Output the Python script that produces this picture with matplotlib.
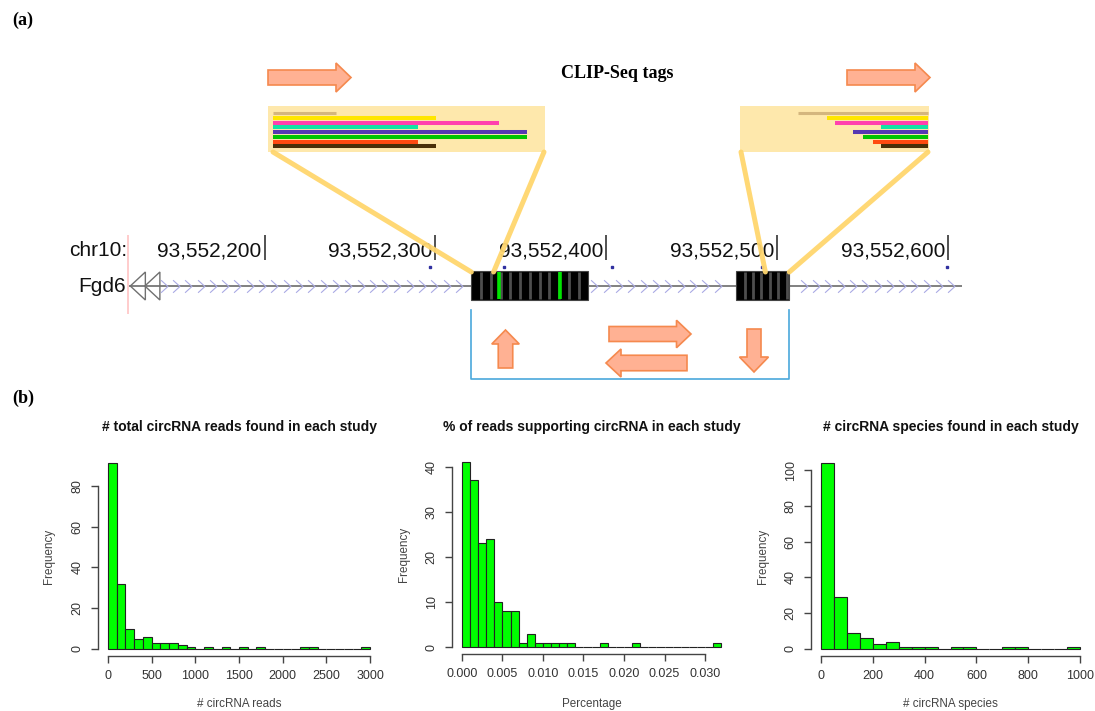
import matplotlib
matplotlib.use("Agg")
import matplotlib.pyplot as plt
import numpy as np
from matplotlib.patches import Rectangle, Polygon, FancyArrow, ConnectionPatch
from matplotlib.path import Path

W, H = 1095, 711

# ---------------- panel (a): gene track ----------------
tick_pos = [93552200, 93552300, 93552400, 93552500, 93552600]
tick_labels = ["93,552,200", "93,552,300", "93,552,400", "93,552,500", "93,552,600"]
gene_start, gene_end = 93552121, 93552608
exon_starts = [93552321, 93552476]
exon_ends = [93552389, 93552507]
exon_stripe = [5.7, 4.9]
green_marks = [93552337, 93552373]
blue_dots = [93552297, 93552340, 93552403, 93552491, 93552599]

# CLIP-Seq tags, as fractions of the zoom box width
tag_colors = ["#d4b67e", "#ffe600", "#ff40ae", "#10e4a4", "#5638b2", "#00c400", "#ff4a10", "#4a3008"]
left_tag_start = 0.018
left_tag_end = [0.245, 0.605, 0.834, 0.540, 0.934, 0.936, 0.540, 0.605]
right_tag_start = [0.307, 0.459, 0.503, 0.744, 0.600, 0.649, 0.702, 0.746]
right_tag_end = 0.995

# ---------------- panel (b): histograms ----------------
reads_bin = 100
reads_counts = [91, 32, 10, 5, 6, 3, 3, 3, 2, 1,
                0, 1, 0, 1, 0, 1, 0, 1, 0, 0,
                0, 0, 1, 1, 0, 0, 0, 0, 0, 1]
pct_bin = 0.001
pct_counts = [41, 37, 23, 24, 10, 8, 8, 1, 3, 1, 1, 1, 1, 1, 0, 0,
              0, 1, 0, 0, 0, 1, 0, 0, 0, 0, 0, 0, 0, 0, 0, 1]
species_bin = 50
species_counts = [104, 29, 9, 6, 3, 4, 1, 1, 1, 0,
                  1, 1, 0, 0, 1, 1, 0, 0, 0, 1]

reads_xticks = [0, 500, 1000, 1500, 2000, 2500, 3000]
reads_yticks = [0, 20, 40, 60, 80]
pct_xticks = [0.000, 0.005, 0.010, 0.015, 0.020, 0.025, 0.030]
pct_xlabels = ["0.000", "0.005", "0.010", "0.015", "0.020", "0.025", "0.030"]
pct_yticks = [0, 10, 20, 30, 40]
species_xticks = [0, 200, 400, 600, 800, 1000]
species_yticks = [0, 20, 40, 60, 80, 100]

plt.rcParams["font.family"] = ["Liberation Sans", "DejaVu Sans"]
SERIF = "Liberation Serif"
ARROW_FC, ARROW_EC = "#ffb193", "#f5894e"
GOLD = "#ffd66e"

fig = plt.figure(figsize=(W / 100, H / 100), dpi=100)

# overlay in pixel units for the schematic decorations
ov = fig.add_axes([0, 0, 1, 1])
ov.set_xlim(0, W)
ov.set_ylim(H, 0)
ov.axis("off")

ov.text(12, 20, "(a)", fontsize=13, fontweight="bold", family=SERIF, va="center")
ov.text(12, 398, "(b)", fontsize=13, fontweight="bold", family=SERIF, va="center")
ov.text(617, 74, "CLIP-Seq tags", fontsize=13, fontweight="bold", family=SERIF,
        ha="center", va="center")


def arrow(x, y, dx, dy, width, head_w, head_l):
    ov.add_patch(FancyArrow(x, y, dx, dy, width=width, head_width=head_w,
                            head_length=head_l, length_includes_head=True,
                            fc=ARROW_FC, ec=ARROW_EC, lw=1.2))


arrow(268, 77.5, 83, 0, 15, 29, 15)
arrow(847, 77.5, 83, 0, 15, 29, 15)
arrow(505.5, 368, 0, -38, 14.5, 27.5, 14)
arrow(609, 334, 82, 0, 15, 27.5, 14.5)
arrow(687, 363, -81, 0, 15.5, 28, 15)
arrow(754, 329, 0, 43, 14, 29, 15)

# gene track: genomic x, pixel y
px_per_bp = 1.7095
g_left = tick_pos[0] - 264.5 / px_per_bp
trk = fig.add_axes([0, 1 - 385 / H, 1, 160 / H])
trk.set_xlim(g_left, g_left + W / px_per_bp)
trk.set_ylim(385, 225)
trk.axis("off")

trk.vlines(tick_pos, 235, 260, color="#333333", lw=1.2)
for pos, lab in zip(tick_pos, tick_labels):
    trk.annotate(lab, xy=(pos, 251), xytext=(-3, 0), textcoords="offset pixels",
                 ha="right", va="center", fontsize=15, color="#111111")
trk.annotate("chr10:", xy=(gene_start, 251), xytext=(-2, 0), textcoords="offset pixels",
             ha="right", va="center", fontsize=15, color="#111111")
trk.annotate("Fgd6", xy=(gene_start, 286), xytext=(-4, 0), textcoords="offset pixels",
             ha="right", va="center", fontsize=15, color="#111111")
trk.vlines(gene_start - 1, 235, 314, color="#ffc4c4", lw=1.2)

trk.hlines(286, gene_start, gene_end, color="#808080", lw=1.4, zorder=1)
for tip in (gene_start + 0.5, gene_start + 9):
    trk.add_patch(Polygon([(tip + 8.8, 272), (tip, 286), (tip + 8.8, 300)], closed=True,
                          fill=False, ec="#707070", lw=1.0))

chev = Path([(-0.55, 1), (0.55, 0), (-0.55, -1)], [Path.MOVETO, Path.LINETO, Path.LINETO])
chev_x = np.arange(gene_start + 20, gene_end - 2, 7.2)
keep = np.ones(len(chev_x), bool)
for s, e in zip(exon_starts, exon_ends):
    keep &= ~((chev_x > s - 4) & (chev_x < e + 4))
trk.plot(chev_x[keep], np.full(keep.sum(), 286), ls="none", marker=chev, markersize=9,
         mfc="none", mec="#aaaae4", mew=0.8)

for s, e, step in zip(exon_starts, exon_ends, exon_stripe):
    trk.add_patch(Rectangle((s, 271), e - s, 29, fc="black", ec="#444444", lw=0.8, zorder=3))
    trk.vlines(np.arange(s + step, e - 1, step), 272, 299, color="#4e4e4e", lw=2.0, zorder=4)
trk.vlines(green_marks, 272, 299, color="#00e600", lw=2.6, zorder=5)
trk.plot(blue_dots, [267] * len(blue_dots), ls="none", marker="s", ms=1.6, color="#3030a0")

trk.plot([exon_starts[0], exon_starts[0], exon_ends[1], exon_ends[1]],
         [310, 379, 379, 310], color="#4aa8dc", lw=1.2)


# zoomed CLIP-Seq tag boxes
def tag_box(x0, x1, starts, ends):
    ax = fig.add_axes([x0 / W, 1 - 152 / H, (x1 - x0) / W, 46 / H])
    ax.set_facecolor("#fee8ac")
    ax.set_xlim(0, 1)
    ax.set_ylim(8.22, -1.55)
    ax.set_xticks([])
    ax.set_yticks([])
    for sp in ax.spines.values():
        sp.set_visible(False)
    rows = np.arange(len(tag_colors))
    ax.hlines(rows, starts, ends, colors=tag_colors, linewidths=[2.2] + [2.9] * 7)
    return ax


tag_box(268, 545, [left_tag_start] * 8, left_tag_end)
tag_box(740, 929, right_tag_start, [right_tag_end] * 8)

for (bx, by), gx in [((273, 152), exon_starts[0]), ((544, 152), exon_starts[0] + 13),
                     ((741, 152), exon_starts[1] + 17), ((928, 152), exon_ends[1])]:
    con = ConnectionPatch(xyA=(bx, by), coordsA=ov.transData, xyB=(gx, 272),
                          coordsB=trk.transData, color=GOLD, lw=3.6, alpha=0.95)
    fig.add_artist(con)


# ---------------- histograms ----------------
def hist_panel(rect, counts, bin_w, xticks, xlabels, yticks, title, xlabel):
    left, top, right, bottom = rect
    ax = fig.add_axes([left / W, 1 - bottom / H, (right - left) / W, (bottom - top) / H])
    ax.set_facecolor("none")
    edges = np.arange(len(counts)) * bin_w
    ax.bar(edges, counts, width=bin_w, align="edge", color="#00ff00",
           edgecolor="#222222", linewidth=0.8)
    xmax = len(counts) * bin_w
    ymax = max(counts)
    ax.set_xlim(-0.04 * xmax, 1.04 * xmax)
    ax.set_ylim(-0.04 * ymax, 1.04 * ymax)
    ax.spines[["top", "right"]].set_visible(False)
    ax.spines["left"].set_bounds(0, yticks[-1])
    ax.spines["bottom"].set_bounds(0, xticks[-1])
    for sp in ("left", "bottom"):
        ax.spines[sp].set_color("#444444")
        ax.spines[sp].set_linewidth(1.0)
    ax.set_xticks(xticks)
    ax.set_xticklabels(xlabels)
    ax.set_yticks(yticks)
    ax.tick_params(direction="out", length=5, width=1, color="#444444",
                   labelcolor="#333333", labelsize=9, pad=5)
    ax.tick_params(axis="y", labelrotation=90)
    for t in ax.get_yticklabels():
        t.set_va("center")
    cx = (left + right) / 2 / W
    fig.text(cx, 1 - 427 / H, title, ha="center", va="center", fontsize=10,
             fontweight="bold", color="#111111")
    fig.text((left - 48) / W, 1 - (top + bottom) / 2 / H, "Frequency", rotation=90,
             ha="center", va="center", fontsize=8.4, color="#444444")
    fig.text(cx, 1 - 710 / H, xlabel, ha="center", va="bottom", fontsize=8.4,
             color="#444444")
    return ax


hist_panel((97.5, 456, 380.5, 656.4), reads_counts, reads_bin, reads_xticks,
           [str(v) for v in reads_xticks], reads_yticks,
           "# total circRNA reads found in each study", "# circRNA reads")
hist_panel((451.6, 455, 731.6, 654.4), pct_counts, pct_bin, pct_xticks, pct_xlabels,
           pct_yticks, "% of reads supporting circRNA in each study", "Percentage")
hist_panel((810.6, 455.4, 1090.4, 656.4), species_counts, species_bin, species_xticks,
           [str(v) for v in species_xticks], species_yticks,
           "# circRNA species found in each study", "# circRNA species")

fig.savefig("out.png", dpi=100)
